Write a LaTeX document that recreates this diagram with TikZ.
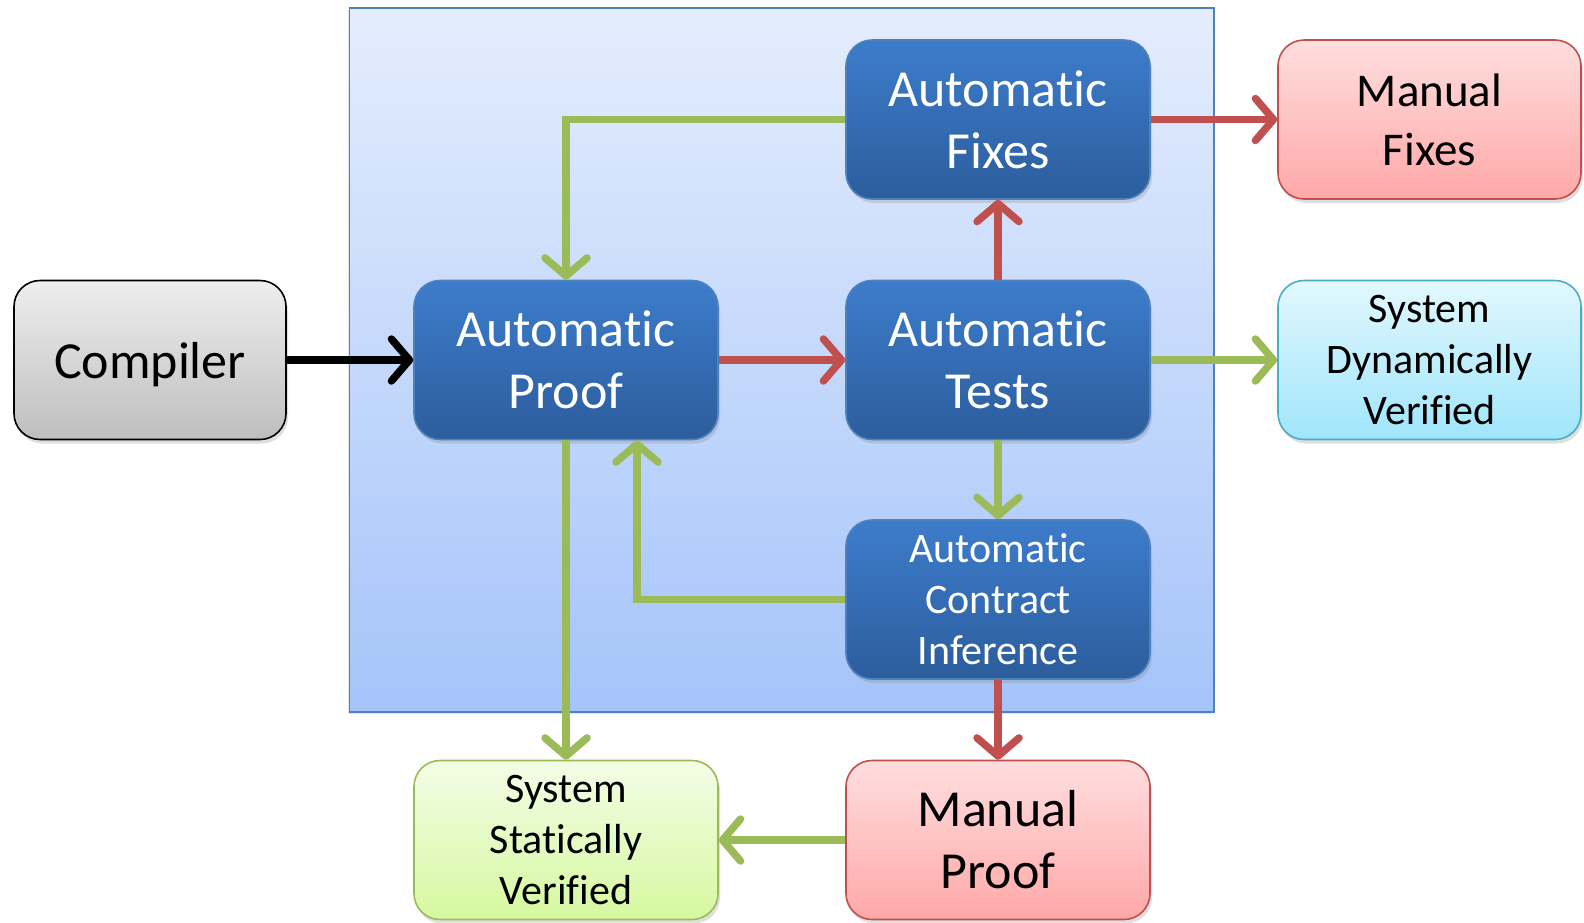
\documentclass[tikz,border=0pt]{standalone}
\usepackage{fontspec}
\setmainfont{Carlito}[Ligatures={NoCommon,NoContextual}, Contextuals=NoAlternate]
\usetikzlibrary{arrows.meta,shadows}
\definecolor{grnA}{HTML}{9BBB59}
\definecolor{redA}{HTML}{C0504D}
\definecolor{bluT}{HTML}{3D7CCB}
\definecolor{bluB}{HTML}{2C5D9C}
\definecolor{bluE}{HTML}{4F81BD}
\definecolor{cntT}{HTML}{E4EDFD}
\definecolor{cntB}{HTML}{A5C4FA}
\definecolor{pnkT}{HTML}{FFDEDE}
\definecolor{pnkB}{HTML}{FFA8A8}
\definecolor{cyT}{HTML}{E2F8FE}
\definecolor{cyB}{HTML}{A0E5FB}
\definecolor{cyE}{HTML}{4BACC6}
\definecolor{gnT}{HTML}{F3FDE6}
\definecolor{gnB}{HTML}{D6F8A0}
\definecolor{gryT}{HTML}{EEEEEE}
\definecolor{gryB}{HTML}{BEBEBE}
\tikzset{
  box/.style={rectangle, rounded corners=26pt, minimum width=304pt, minimum height=159pt,
    align=center, inner sep=0pt, line width=1.6pt,
    drop shadow={shadow xshift=2pt, shadow yshift=-4pt, opacity=0.25}},
  bigf/.style={font=\fontsize{52}{62}\selectfont},
  smallf/.style={font=\fontsize{42}{51}\selectfont},
  bluebox/.style={box, draw=bluE, top color=bluT, bottom color=bluB, text=white},
  pinkbox/.style={box, draw=redA, top color=pnkT, bottom color=pnkB, text=black},
  cyanbox/.style={box, draw=cyE, top color=cyT, bottom color=cyB, text=black},
  greenbox/.style={box, draw=grnA, top color=gnT, bottom color=gnB, text=black},
  graybox/.style={box, draw=black, top color=gryT, bottom color=gryB, text=black},
  conn/.style={line width=7.5pt, -{Straight Barb[length=18pt,width=42pt,line cap=round,line join=round]}},
  grn/.style={conn, draw=grnA},
  redc/.style={conn, draw=redA},
  blk/.style={conn, draw=black},
}
\begin{document}
\begin{tikzpicture}[x=1pt,y=-1pt]
\useasboundingbox (0,0) rectangle (1584,922);
\node[rectangle, draw=bluE, line width=1.6pt, top color=cntT, bottom color=cntB,
  minimum width=864.5pt, minimum height=704pt, inner sep=0pt,
  drop shadow={shadow xshift=-2pt, shadow yshift=-2pt, opacity=0.2}] (cont) at (781.75,360) {};

\node[graybox, bigf, minimum width=272pt, text depth=0pt] (comp) at (150,360) {Compiler};
\node[bluebox, bigf] (ap) at (566,360) {Automatic\\Proof};
\node[bluebox, bigf] (at) at (998,360) {Automatic\\Tests};
\node[bluebox, bigf] (af) at (998,119.5) {Automatic\\Fixes};
\node[bluebox, smallf] (aci) at (998,599.5) {Automatic\\Contract\\Inference};
\node[pinkbox, font=\fontsize{47}{59}\selectfont, minimum width=303pt] (mf) at (1429.5,119.5) {Manual\\Fixes};
\node[cyanbox, smallf, minimum width=303pt] (sdv) at (1429.5,360) {System\\Dynamically\\Verified};
\node[greenbox, smallf] (ssv) at (566,840) {System\\Statically\\Verified};
\node[pinkbox, bigf] (mp) at (998,840) {Manual\\Proof};

\coordinate (back) at ([xshift=71pt]ap.south);

\draw[blk] (comp.east) -- (ap.west);
\draw[grn] (af.west) -| (ap.north);
\draw[redc] (ap.east) -- (at.west);
\draw[redc] (at.north) -- (af.south);
\draw[redc] (af.east) -- (mf.west);
\draw[grn] (at.east) -- (sdv.west);
\draw[grn] (at.south) -- (aci.north);
\draw[grn] (aci.west) -| (back);
\draw[grn] (ap.south) -- (ssv.north);
\draw[redc] (aci.south) -- (mp.north);
\draw[grn] (mp.west) -- (ssv.east);
\end{tikzpicture}
\end{document}
